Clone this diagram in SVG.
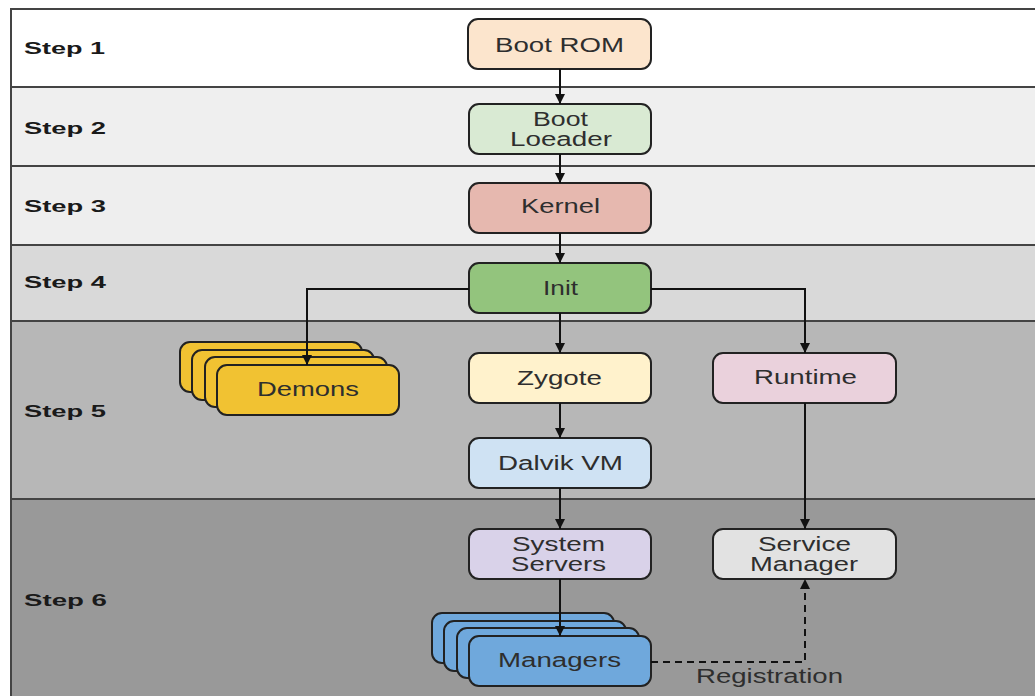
<svg xmlns="http://www.w3.org/2000/svg" width="1035" height="696" viewBox="0 0 1035 696">
  <defs>
    <marker id="arrow" viewBox="0 0 10 10" refX="10" refY="5" markerWidth="10" markerHeight="10" markerUnits="userSpaceOnUse" orient="auto">
      <path d="M0,0 L10,5 L0,10 Z" fill="#111"/>
    </marker>
    <style>
      .band { stroke: #444; stroke-width: 2; }
      .step { font-family: "Liberation Sans", Arial, sans-serif; font-weight: bold; font-size: 17px; fill: #1a1a1a; }
      .box { stroke: #222; stroke-width: 2; }
      .lbl { font-family: "Liberation Sans", Arial, sans-serif; font-size: 20px; fill: #2e2e2e; }
      .edge { fill: none; stroke: #111; stroke-width: 2; }
      .dash { fill: none; stroke: #111; stroke-width: 2; stroke-dasharray: 7 5; }
    </style>
  </defs>

  <!-- swimlane bands -->
  <g id="bands">
    <rect x="0" y="0" width="1035" height="696" fill="#ffffff"/>
    <rect class="band" x="11" y="9" width="1030" height="78" fill="#ffffff"/>
    <rect class="band" x="11" y="87" width="1030" height="79" fill="#efefef"/>
    <rect class="band" x="11" y="166" width="1030" height="79" fill="#eeeeee"/>
    <rect class="band" x="11" y="245" width="1030" height="76" fill="#d9d9d9"/>
    <rect class="band" x="11" y="321" width="1030" height="178" fill="#b7b7b7"/>
    <rect class="band" x="11" y="499" width="1030" height="200" fill="#999999"/>
    <text class="step" x="24" y="54" textLength="81" lengthAdjust="spacingAndGlyphs">Step 1</text>
    <text class="step" x="24" y="134" textLength="82" lengthAdjust="spacingAndGlyphs">Step 2</text>
    <text class="step" x="24" y="212" textLength="82" lengthAdjust="spacingAndGlyphs">Step 3</text>
    <text class="step" x="24" y="288" textLength="82" lengthAdjust="spacingAndGlyphs">Step 4</text>
    <text class="step" x="24" y="417" textLength="82" lengthAdjust="spacingAndGlyphs">Step 5</text>
    <text class="step" x="24" y="606" textLength="83" lengthAdjust="spacingAndGlyphs">Step 6</text>
  </g>

  <g id="boot-rom">
    <rect class="box" x="468" y="19" width="183" height="50" rx="10" fill="#fce5cd"/>
    <text class="lbl" x="495" y="52" textLength="129" lengthAdjust="spacingAndGlyphs">Boot ROM</text>
  </g>

  <g id="boot-loader">
    <rect class="box" x="469" y="104" width="182" height="50" rx="10" fill="#d9ead3"/>
    <text class="lbl" x="533" y="126" textLength="55" lengthAdjust="spacingAndGlyphs">Boot</text>
    <text class="lbl" x="510" y="146" textLength="102" lengthAdjust="spacingAndGlyphs">Loeader</text>
  </g>

  <g id="kernel">
    <rect class="box" x="469" y="183" width="182" height="50" rx="10" fill="#e6b8af"/>
    <text class="lbl" x="521" y="213" textLength="79" lengthAdjust="spacingAndGlyphs" fill="#3a2420">Kernel</text>
  </g>

  <g id="init">
    <rect class="box" x="469" y="263" width="182" height="50" rx="10" fill="#93c47d"/>
    <text class="lbl" x="543" y="295" textLength="35" lengthAdjust="spacingAndGlyphs">Init</text>
  </g>

  <g id="demons">
    <rect class="box" x="180" y="342" width="182" height="50" rx="10" fill="#f1c232"/>
    <rect class="box" x="192" y="350" width="182" height="50" rx="10" fill="#f1c232"/>
    <rect class="box" x="205" y="357" width="182" height="50" rx="10" fill="#f1c232"/>
    <rect class="box" x="217" y="365" width="182" height="50" rx="10" fill="#f1c232"/>
    <text class="lbl" x="257" y="396" textLength="102" lengthAdjust="spacingAndGlyphs" fill="#3a2a10">Demons</text>
  </g>

  <g id="zygote">
    <rect class="box" x="469" y="353" width="182" height="50" rx="10" fill="#fff2cc"/>
    <text class="lbl" x="517" y="385" textLength="85" lengthAdjust="spacingAndGlyphs">Zygote</text>
  </g>

  <g id="runtime">
    <rect class="box" x="713" y="353" width="183" height="50" rx="10" fill="#ead1dc"/>
    <text class="lbl" x="754" y="384" textLength="103" lengthAdjust="spacingAndGlyphs">Runtime</text>
  </g>

  <g id="dalvik-vm">
    <rect class="box" x="469" y="438" width="182" height="50" rx="10" fill="#cfe2f3"/>
    <text class="lbl" x="498" y="470" textLength="125" lengthAdjust="spacingAndGlyphs" fill="#1f2a36">Dalvik VM</text>
  </g>

  <g id="system-servers">
    <rect class="box" x="469" y="529" width="182" height="50" rx="10" fill="#d9d2e9"/>
    <text class="lbl" x="512" y="551" textLength="93" lengthAdjust="spacingAndGlyphs">System</text>
    <text class="lbl" x="511" y="571" textLength="95" lengthAdjust="spacingAndGlyphs">Servers</text>
  </g>

  <g id="service-manager">
    <rect class="box" x="713" y="529" width="183" height="50" rx="10" fill="#e2e2e2"/>
    <text class="lbl" x="758" y="551" textLength="93" lengthAdjust="spacingAndGlyphs">Service</text>
    <text class="lbl" x="750" y="571" textLength="108" lengthAdjust="spacingAndGlyphs">Manager</text>
  </g>

  <g id="managers">
    <rect class="box" x="432" y="613" width="182" height="50" rx="10" fill="#6fa8dc"/>
    <rect class="box" x="444" y="621" width="182" height="50" rx="10" fill="#6fa8dc"/>
    <rect class="box" x="457" y="628" width="182" height="50" rx="10" fill="#6fa8dc"/>
    <rect class="box" x="469" y="636" width="182" height="50" rx="10" fill="#6fa8dc"/>
    <text class="lbl" x="498" y="667" textLength="123" lengthAdjust="spacingAndGlyphs" fill="#1c2f42">Managers</text>
  </g>

  <!-- connectors, drawn last so they pass over the stacked boxes -->
  <g id="connectors">
    <path class="edge" d="M560,69 L560,104" marker-end="url(#arrow)"/>
    <path class="edge" d="M560,154 L560,183" marker-end="url(#arrow)"/>
    <path class="edge" d="M560,233 L560,263" marker-end="url(#arrow)"/>
    <path class="edge" d="M560,313 L560,353" marker-end="url(#arrow)"/>
    <path class="edge" d="M560,403 L560,438" marker-end="url(#arrow)"/>
    <path class="edge" d="M560,488 L560,529" marker-end="url(#arrow)"/>
    <path class="edge" d="M560,579 L560,636" marker-end="url(#arrow)"/>
    <path class="edge" d="M469,289 L307,289 L307,365" marker-end="url(#arrow)"/>
    <path class="edge" d="M651,289 L805,289 L805,353" marker-end="url(#arrow)"/>
    <path class="edge" d="M805,403 L805,529" marker-end="url(#arrow)"/>
    <path class="dash" d="M651,662 L805,662 L805,579" marker-end="url(#arrow)"/>
    <text class="lbl" x="696" y="683" textLength="147" lengthAdjust="spacingAndGlyphs">Registration</text>
  </g>
</svg>
